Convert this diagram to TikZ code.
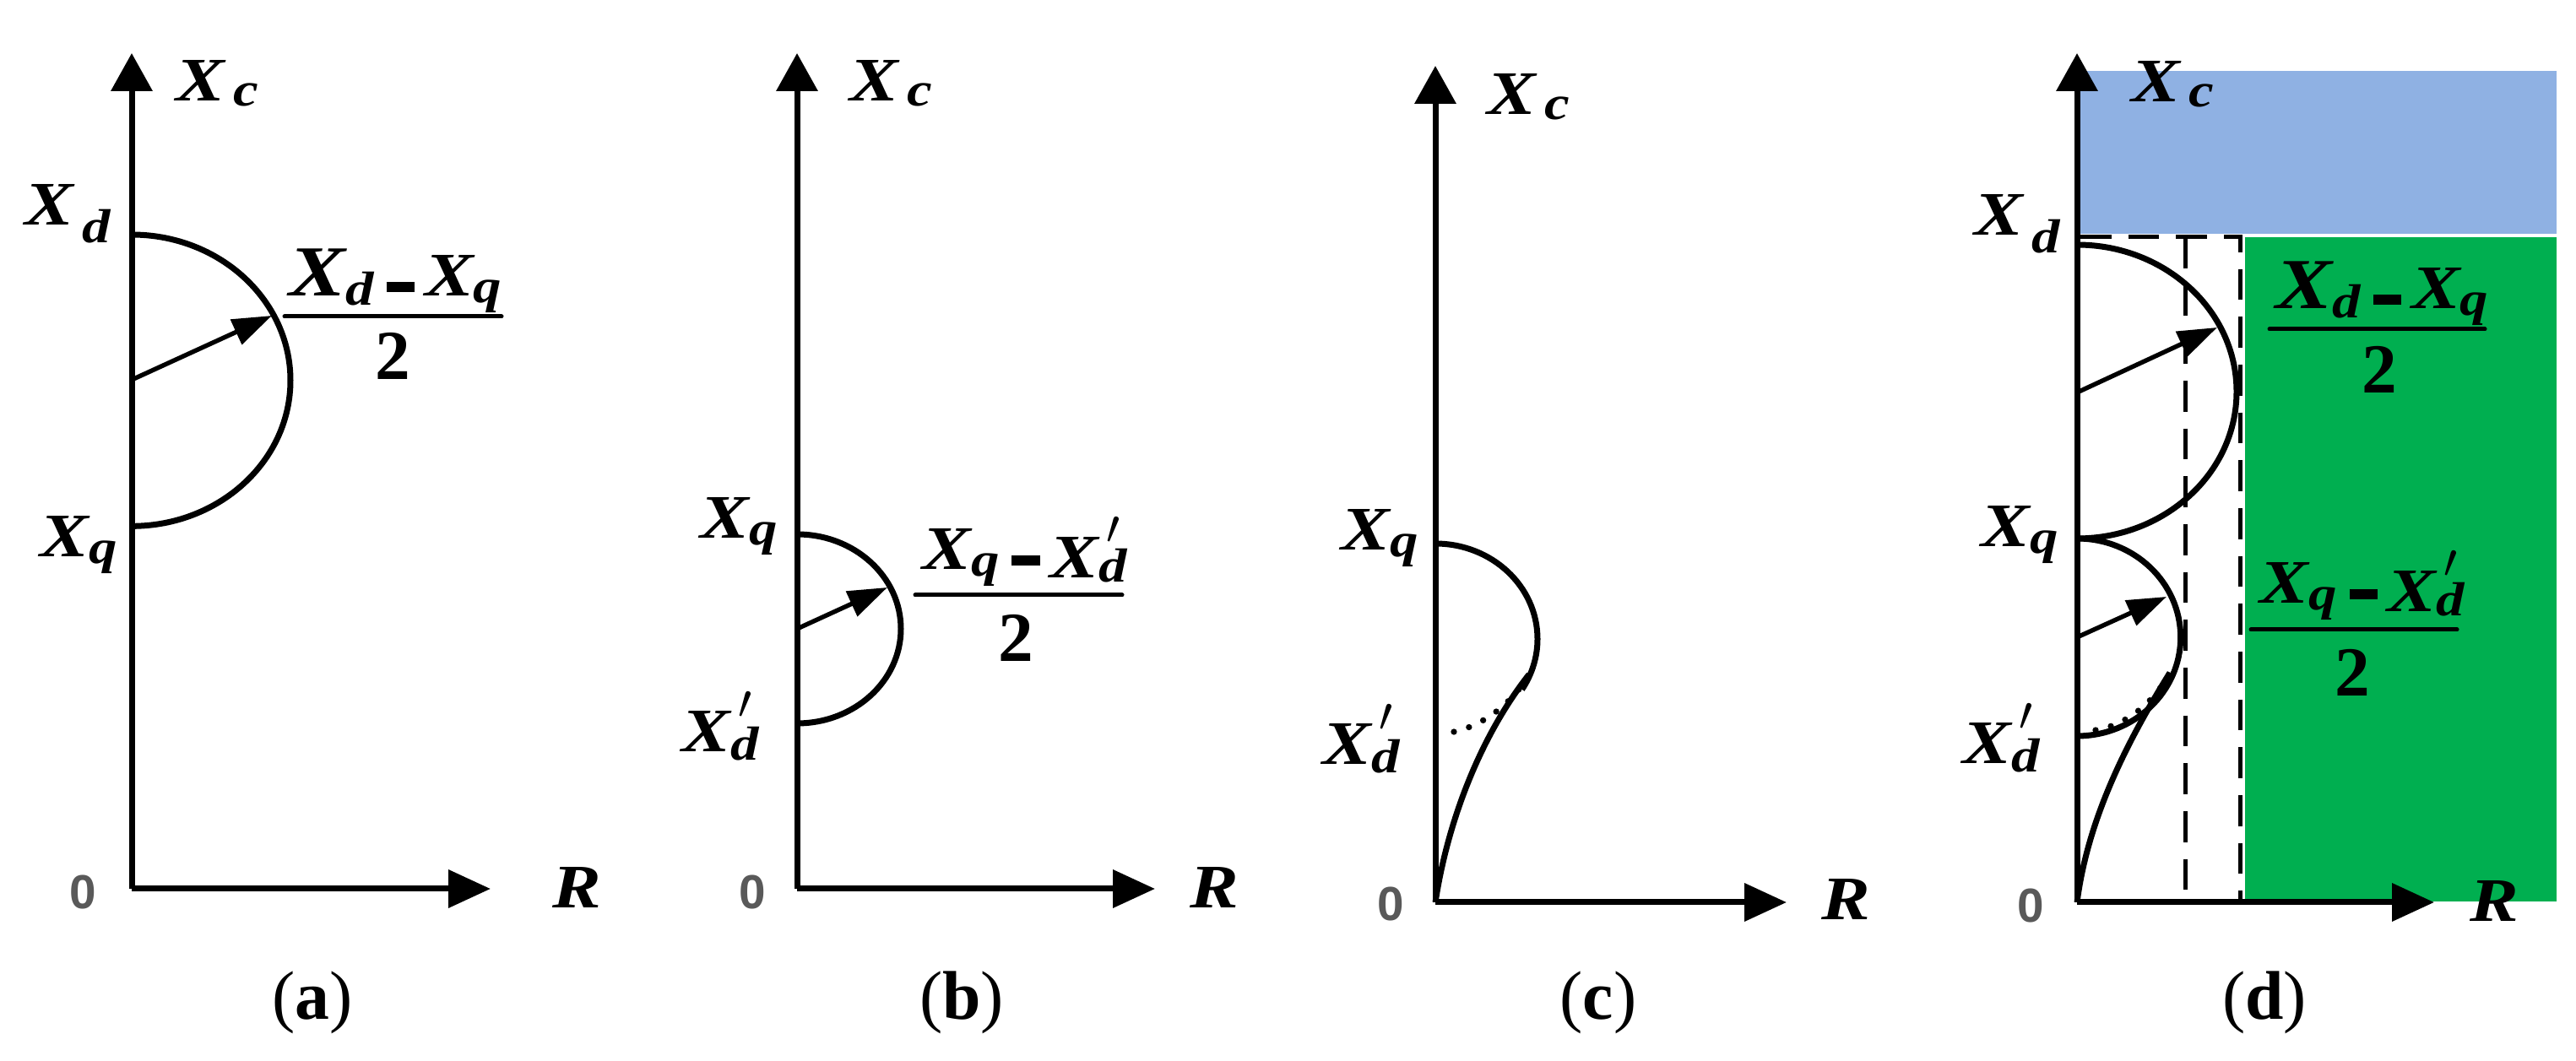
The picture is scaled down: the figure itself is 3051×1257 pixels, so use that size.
\documentclass[tikz,border=0pt]{standalone}
\usepackage{fontspec}
\setmainfont{Liberation Serif}
\setsansfont{Liberation Sans}
\newfontfamily\labfont[FakeStretch=1.18]{Liberation Serif}
\usetikzlibrary{arrows.meta}
\definecolor{bluezone}{HTML}{8FB1E3}
\definecolor{greenzone}{HTML}{00AF50}
\newcommand{\subsize}{\fontsize{17}{17}\selectfont}
\newcommand{\Xsub}[3]{X\kern#1em\raisebox{-#2em}{\subsize #3}}
\newcommand{\bigXd}{{\fontsize{25.5}{25.5}\selectfont X}\raisebox{-.14em}{\subsize d}}
\newcommand{\Xpr}[1]{X\rlap{\raisebox{.54em}{\kern.12em\fontsize{16}{16}\selectfont$\prime$}}\raisebox{-#1em}{\subsize d}}
\newcommand{\minbar}{\kern.2em\rule[.07em]{.46em}{.155em}\kern.16em}
\begin{document}
\begin{tikzpicture}[x=0.3pt, y=-0.3pt,
	lab/.style = {inner sep=0pt, anchor=base west, font=\fontsize{22}{22}\labfont\bfseries\itshape},
	two/.style = {inner sep=0pt, anchor=base, font=\fontsize{25}{25}\selectfont\bfseries},
	zero/.style = {inner sep=0pt, text=black!65, font=\fontsize{17}{17}\selectfont\sffamily\bfseries},
	sublabel/.style = {inner sep=0pt, anchor=base, font=\fontsize{24.5}{24.5}\selectfont},
	axis/.style = {line width=2.1pt, -{Triangle[length=13.5pt,width=14.4pt]}},
	raxis/.style = {line width=2.1pt, -{Triangle[length=15pt,width=13.2pt]}},
	locus/.style = {line width=2.1pt},
	radline/.style = {line width=1.6pt, -{Triangle[length=14pt,width=9.5pt]}},
	fracline/.style = {line width=1.5pt, line cap=round},
	dotline/.style = {line width=2.2pt, line cap=round, dash pattern=on 0pt off 5.6pt},
	guide/.style = {line width=1.5pt, dash pattern=on 11pt off 6pt}]
	\useasboundingbox (0,0) rectangle (3051,1257);

	% shaded zones of (d)
	\fill[bluezone] (2464,84) rectangle (3028,277);
	\fill[greenzone] (2659,281) rectangle (3028,1068);

	% (a)
	\coordinate (o1) at (156,1053);
	\coordinate (t1) at (156,63);
	\coordinate (r1) at (581,1053);
	\coordinate (d1) at (156,278);
	\coordinate (c1) at (156,450);
	\coordinate (e1) at (322,374);
	\draw[axis] (o1) -- (t1);
	\draw[raxis] (o1) -- (r1);
	\draw[locus] (d1) arc[start angle=90, end angle=-90, x radius=56.4pt, y radius=51.8pt];
	\draw[radline] (c1) -- (e1);
	\node[lab] (xc1) at (208,120) {\Xsub{.14}{.08}{c}};
	\node[lab] (xd1) at (29,267) {\Xsub{.14}{.28}{d}};
	\node[lab] (xq1) at (47,660) {\Xsub{0}{.1}{q}};
	\node[zero] (z1) at (98,1057) {0};
	\node[lab] (r1l) at (654,1076) {R};
	\node[lab] (n1) at (342,351) {\bigXd\minbar\Xsub{0}{.1}{q}};
	\coordinate (fa1) at (337,375);
	\coordinate (fb1) at (594,375);
	\draw[fracline] (fa1) -- (fb1);
	\node[two] (h1) at (465,450) {2};
	\node[sublabel] (cap1) at (370,1207) {(\textbf{a})};

	% (b)
	\coordinate (o2) at (944,1053);
	\coordinate (t2) at (944,63);
	\coordinate (r2) at (1368,1053);
	\coordinate (d2) at (944,633);
	\coordinate (c2) at (944,745);
	\coordinate (e2) at (1051,696);
	\draw[axis] (o2) -- (t2);
	\draw[raxis] (o2) -- (r2);
	\draw[locus] (d2) arc[start angle=90, end angle=-90, x radius=36.9pt, y radius=33.6pt];
	\draw[radline] (c2) -- (e2);
	\node[lab] (xc2) at (1006,120) {\Xsub{.14}{.08}{c}};
	\node[lab] (xq2) at (829,638) {\Xsub{0}{.1}{q}};
	\node[lab] (xp2) at (807,891) {\Xpr{.13}};
	\node[zero] (z2) at (891,1057) {0};
	\node[lab] (r2l) at (1409,1076) {R};
	\node[lab] (n2) at (1092,675) {\Xsub{0}{.1}{q}\minbar\raisebox{-.125em}{\Xpr{.07}}};
	\coordinate (fa2) at (1084,705);
	\coordinate (fb2) at (1329,705);
	\draw[fracline] (fa2) -- (fb2);
	\node[two] (h2) at (1203,784) {2};
	\node[sublabel] (cap2) at (1139,1207) {(\textbf{b})};

	% (c)
	\coordinate (o3) at (1700,1069);
	\coordinate (t3) at (1700,78);
	\coordinate (r3) at (2116,1069);
	\coordinate (d3) at (1700,644);
	\coordinate (m3) at (1811,799);
	\coordinate (s3) at (1722,867);
	\draw[axis] (o3) -- (t3);
	\draw[raxis] (o3) -- (r3);
	\draw[locus] (d3) arc[start angle=90, end angle=-32, x radius=36.3pt, y radius=33.9pt];
	\draw[locus] (o3) .. controls (1715,970) and (1755,870) .. (m3);
	\draw[dotline] (s3) .. controls (1755,860) and (1790,835) .. (m3);
	\node[lab] (xc3) at (1761,136) {\Xsub{.14}{.08}{c}};
	\node[lab] (xq3) at (1588,652) {\Xsub{0}{.1}{q}};
	\node[lab] (xp3) at (1566,906) {\Xpr{.13}};
	\node[zero] (z3) at (1647,1071) {0};
	\node[lab] (r3l) at (2157,1090) {R};
	\node[sublabel] (cap3) at (1893,1207) {(\textbf{c})};

	% (d)
	\coordinate (o4) at (2460,1069);
	\coordinate (t4) at (2460,63);
	\coordinate (r4) at (2883,1069);
	\coordinate (d4) at (2460,290);
	\coordinate (q4) at (2460,638);
	\coordinate (c4) at (2460,465);
	\coordinate (e4) at (2626,388);
	\coordinate (g4) at (2460,755);
	\coordinate (k4) at (2566,707);
	\coordinate (m4) at (2570,797);
	\coordinate (s4) at (2482,865);
	\coordinate (dt4) at (2653,281);
	\coordinate (db4) at (2653,1066);
	\coordinate (it4) at (2588,281);
	\coordinate (ib4) at (2588,1066);
	\coordinate (ds4) at (2464,281);
	\draw[guide] (ds4) -- (dt4) -- (db4);
	\draw[guide] (it4) -- (ib4);
	\draw[axis] (o4) -- (t4);
	\draw[raxis] (o4) -- (r4);
	\draw[locus] (d4) arc[start angle=90, end angle=-90, x radius=56.7pt, y radius=52.2pt];
	\draw[locus] (q4) arc[start angle=90, end angle=-90, x radius=36.8pt, y radius=35.1pt];
	\draw[locus] (o4) .. controls (2472,975) and (2515,885) .. (m4);
	\draw[dotline] (s4) .. controls (2515,860) and (2550,835) .. (m4);
	\draw[radline] (c4) -- (e4);
	\draw[radline] (g4) -- (k4);
	\node[lab] (xc4) at (2524,121) {\Xsub{.14}{.08}{c}};
	\node[lab] (xd4) at (2338,279) {\Xsub{.14}{.28}{d}};
	\node[lab] (xq4) at (2346,648) {\Xsub{0}{.1}{q}};
	\node[lab] (xp4) at (2324,905) {\Xpr{.13}};
	\node[zero] (z4) at (2405,1073) {0};
	\node[lab] (r4l) at (2925,1092) {R};
	\node[lab] (n4) at (2695,366) {\bigXd\minbar\Xsub{0}{.1}{q}};
	\coordinate (fa4) at (2688,390);
	\coordinate (fb4) at (2943,390);
	\draw[fracline] (fa4) -- (fb4);
	\node[two] (h4) at (2818,466) {2};
	\node[lab] (n5) at (2676,715) {\Xsub{0}{.1}{q}\minbar\raisebox{-.125em}{\Xpr{.07}}};
	\coordinate (fa5) at (2666,746);
	\coordinate (fb5) at (2910,746);
	\draw[fracline] (fa5) -- (fb5);
	\node[two] (h5) at (2786,825) {2};
	\node[sublabel] (cap4) at (2682,1207) {(\textbf{d})};
\end{tikzpicture}
\end{document}
